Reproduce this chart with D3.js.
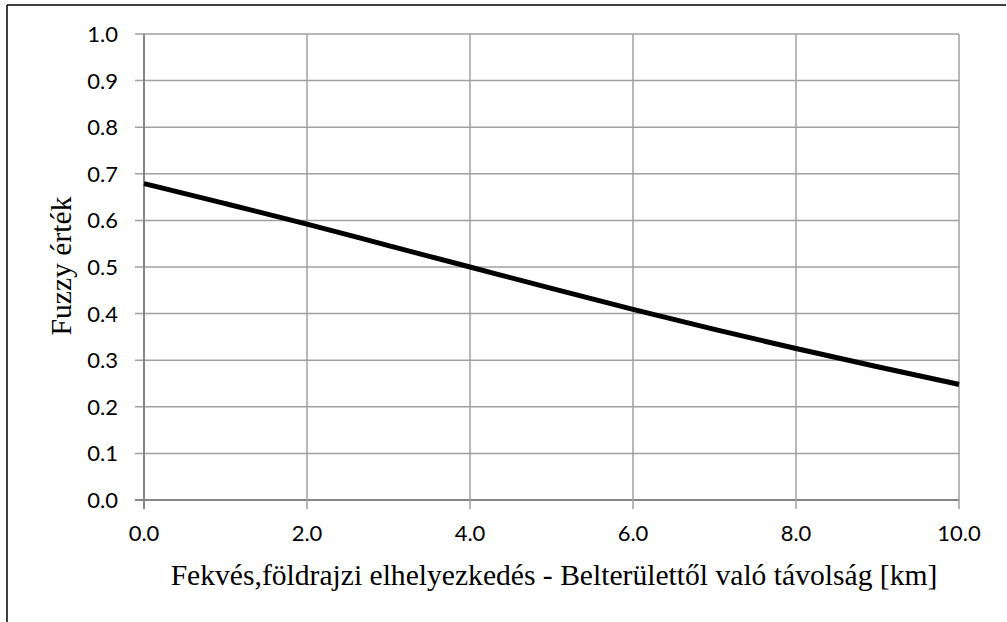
<!DOCTYPE html>
<html><head><meta charset="utf-8">
<script src="https://cdn.jsdelivr.net/npm/d3@7"></script>
<style>body{margin:0;background:#fff}svg{display:block}</style>
</head><body><svg id="c" width="1007" height="622"></svg>
<script>
const distanceKm = [0,1,2,3,4,5,6,7,8,9,10];
const fuzzyValue = [0.679,0.636,0.592,0.546,0.500,0.454,0.409,0.366,0.325,0.286,0.248];
const xTicks = [0,2,4,6,8,10];
const yTicks = [0,0.1,0.2,0.3,0.4,0.5,0.6,0.7,0.8,0.9,1.0];
const xTitle = "Fekvés,földrajzi elhelyezkedés - Belterülettől való távolság [km]";
const yTitle = "Fuzzy érték";

const svg = d3.select("#c");
const x = d3.scaleLinear().domain([0,10]).range([144,959]);
const y = d3.scaleLinear().domain([0,1]).range([500,34]);

svg.append("line").attr("x1",7).attr("x2",1006).attr("y1",5).attr("y2",5).attr("stroke","#000").attr("stroke-width",1.5);
svg.append("line").attr("x1",7).attr("x2",7).attr("y1",5).attr("y2",622).attr("stroke","#000").attr("stroke-width",1.5);

const grid = svg.append("g");
grid.selectAll(".hy").data(yTicks).join("line")
  .attr("x1",135).attr("x2",x(10)).attr("y1",d=>y(d)).attr("y2",d=>y(d))
  .attr("stroke",d=>d===0?"#868686":"#a0a0a0").attr("stroke-width",d=>d===0?2:1.5);
grid.selectAll(".vx").data(xTicks).join("line")
  .attr("x1",d=>x(d)).attr("x2",d=>x(d)).attr("y1",y(1)).attr("y2",509)
  .attr("stroke",d=>d===0?"#868686":"#a0a0a0").attr("stroke-width",d=>d===0?2:1.5);

svg.selectAll(".yl").data(yTicks).join("text")
  .attr("x",118).attr("y",d=>y(d)).attr("dy","0.36em").attr("text-anchor","end")
  .attr("font-family","Lato, sans-serif").attr("font-size",22).attr("fill","#000")
  .text(d=>d3.format(".1f")(d));
svg.selectAll(".xl").data(xTicks).join("text")
  .attr("x",d=>x(d)).attr("y",541).attr("text-anchor","middle")
  .attr("font-family","Lato, sans-serif").attr("font-size",22).attr("fill","#000")
  .text(d=>d3.format(".1f")(d));

const line = d3.line().x((d,i)=>x(distanceKm[i])).y(d=>y(d)).curve(d3.curveMonotoneX);
svg.append("path").datum(fuzzyValue).attr("d",line).attr("fill","none")
  .attr("stroke","#000").attr("stroke-width",5);

svg.append("text").attr("x",554).attr("y",585).attr("text-anchor","middle")
  .attr("font-family","Liberation Serif, Times New Roman, serif").attr("font-size",29.6).text(xTitle);
svg.append("text").attr("transform","translate(71,266) rotate(-90)").attr("text-anchor","middle")
  .attr("font-family","Liberation Serif, Times New Roman, serif").attr("font-size",29.6).text(yTitle);
</script></body></html>
